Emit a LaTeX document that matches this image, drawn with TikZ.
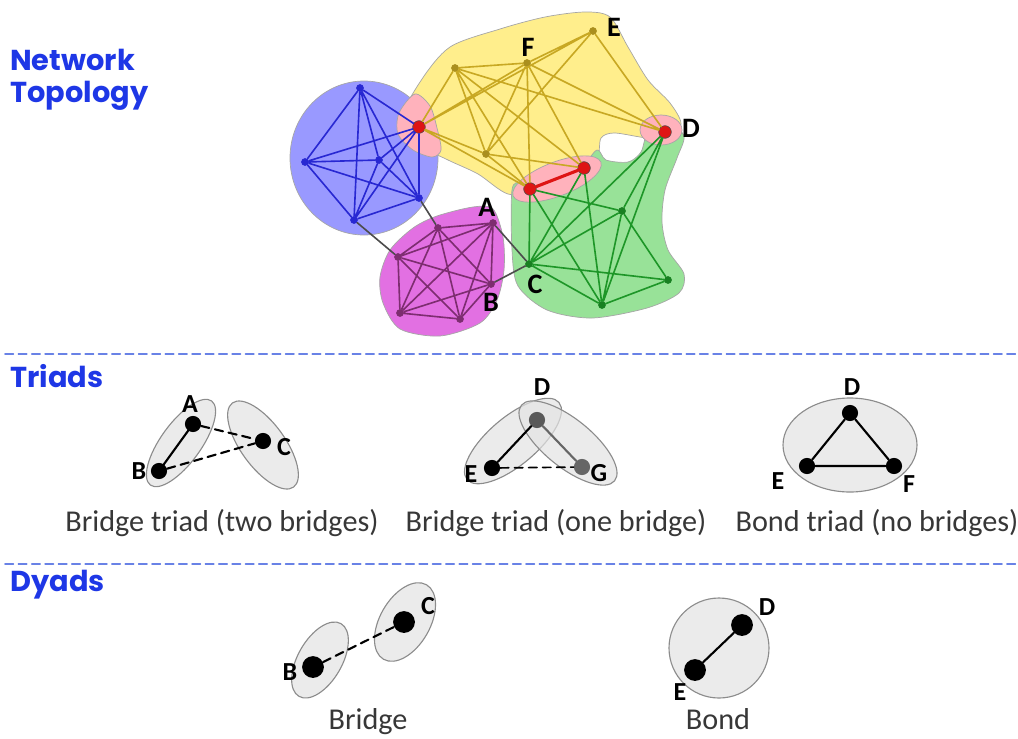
\documentclass[tikz,border=0pt]{standalone}
\usepackage{fontspec}
\setmainfont{Carlito}
\newfontfamily\headfont{Poppins}
\usepackage{tikz}

\definecolor{grpblue}{RGB}{153,153,255}
\definecolor{grpyellow}{RGB}{255,238,140}
\definecolor{grpgreen}{RGB}{152,226,152}
\definecolor{grpmag}{RGB}{226,112,226}
\definecolor{grppink}{RGB}{255,178,188}
\definecolor{edgeblue}{RGB}{40,40,210}
\definecolor{edgeyellow}{RGB}{200,168,35}
\definecolor{edgegreen}{RGB}{30,150,40}
\definecolor{edgemag}{RGB}{125,45,112}
\definecolor{nodered}{RGB}{222,20,20}
\definecolor{headblue}{RGB}{30,55,230}
\definecolor{sepblue}{RGB}{105,130,230}
\definecolor{captiongray}{RGB}{55,55,55}

\tikzset{every picture/.style={line cap=round}}
\tikzset{blob/.style = {draw=black!35, line width=0.5pt}}
\tikzset{dot/.style = {shape=circle, inner sep=0pt, minimum size=5.5pt}}
\tikzset{rednode/.style = {shape=circle, draw=black!70, fill=nodered, inner sep=0pt, minimum size=9pt}}
\tikzset{netedge/.style = {line width=1.15pt}}
\tikzset{lbl/.style = {font=\fontsize{20}{22}\selectfont\bfseries, inner sep=0pt}}
\tikzset{smalllbl/.style = {font=\fontsize{18.5}{20}\selectfont\bfseries, inner sep=0pt}}
\tikzset{heading/.style = {font=\headfont\fontsize{20.5}{22}\selectfont\bfseries, text=headblue, inner sep=0pt}}
\tikzset{caption/.style = {font=\fontsize{21.5}{24}\selectfont, text=captiongray, inner sep=0pt, anchor=base}}
\tikzset{sep/.style = {sepblue, line width=1.1pt, dash pattern=on 6pt off 3.5pt}}
\tikzset{group/.style = {draw=black!45, fill=black!11, fill opacity=0.7, line width=0.8pt}}
\tikzset{vtx/.style = {shape=circle, fill=black, inner sep=0pt, minimum size=11.5pt}}
\tikzset{bigvtx/.style = {shape=circle, fill=black, inner sep=0pt, minimum size=15.5pt}}
\tikzset{tie/.style = {line width=1.5pt}}
\tikzset{bridge/.style = {line width=1.5pt, dash pattern=on 6pt off 4pt}}

\begin{document}
\begin{tikzpicture}[x=0.025cm, y=-0.025cm]
\useasboundingbox (0,0) rectangle (1018,738);

% section headings and separators
\node[heading, anchor=base west] (hnet) at (10,70) {Network};
\node[heading, anchor=base west] (htop) at (10,102) {Topology};
\node[heading, anchor=base west] (htri) at (10,387) {Triads};
\node[heading, anchor=base west] (hdya) at (10,591) {Dyads};
\draw[sep] (5,354) -- (1018,354);
\draw[sep] (5,564) -- (1018,564);

% communities
\filldraw[blob, fill=grpblue] (364,158) ellipse [x radius=74, y radius=77];
\filldraw[blob, fill=grpmag] plot[smooth cycle] coordinates {(473,207) (493,209) (503,237) (504,270) (497,300) (480,323) (440,336) (400,329) (383,303) (380,277) (390,250) (413,228) (437,216)};
\filldraw[blob, fill=grpyellow] plot[smooth cycle] coordinates {(402,120) (420,82) (450,47) (500,29) (545,17) (585,12) (610,17) (628,47) (648,80) (670,103) (681,124) (668,141) (640,137) (614,133) (601,138) (597,158) (575,178) (540,192) (508,194) (478,174) (448,160) (422,146)};
\filldraw[blob, fill=grpgreen] plot[smooth cycle] coordinates {(512,190) (512,250) (518,286) (547,310) (592,318) (647,308) (679,293) (684,274) (668,250) (662,222) (665,190) (677,158) (684,136) (668,124) (648,132) (641,152) (628,162) (606,160) (597,150) (580,168) (548,180) (522,182)};
\filldraw[blob, fill=grppink] plot[smooth cycle] coordinates {(415,94) (430,106) (437,128) (441,150) (432,157) (413,150) (398,134) (399,113)};
\filldraw[blob, fill=grppink, rotate around={21:(557,179)}] (557,179) ellipse [x radius=47, y radius=17];
\filldraw[blob, fill=grppink] (661,130) ellipse [x radius=21, y radius=15];

% nodes of the network
\node[dot, fill=edgeblue] (b1) at (360,88) {};
\node[dot, fill=edgeblue] (b2) at (305,162) {};
\node[dot, fill=edgeblue] (b3) at (379,160) {};
\node[dot, fill=edgeblue] (b4) at (354,220) {};
\node[dot, fill=edgeblue] (b5) at (419,198) {};
\node[rednode] (r1) at (419,127) {};
\node[dot, fill=edgeyellow!85!black] (y1) at (455,68) {};
\node[dot, fill=edgeyellow!85!black] (y2) at (486,154) {};
\node[dot, fill=edgeyellow!85!black] (yF) at (527,63) {};
\node[dot, fill=edgeyellow!85!black] (yE) at (593,31) {};
\node[rednode] (r2) at (584,168) {};
\node[rednode] (r3) at (530,189) {};
\node[rednode] (rD) at (665,132) {};
\node[dot, fill=edgegreen!85!black] (gC) at (529,264) {};
\node[dot, fill=edgegreen!85!black] (g1) at (622,211) {};
\node[dot, fill=edgegreen!85!black] (g2) at (668,280) {};
\node[dot, fill=edgegreen!85!black] (g3) at (602,305) {};
\node[dot, fill=edgemag] (mA) at (493,223) {};
\node[dot, fill=edgemag] (m2) at (438,228) {};
\node[dot, fill=edgemag] (m3) at (398,257) {};
\node[dot, fill=edgemag] (mB) at (491,284) {};
\node[dot, fill=edgemag] (m5) at (400,313) {};
\node[dot, fill=edgemag] (m6) at (460,319) {};

\node[lbl] (lF) at (528,47) {F};
\node[lbl] (lE) at (614,27) {E};
\node[lbl] (lD) at (691,128) {D};
\node[lbl] (lA) at (487,207) {A};
\node[lbl] (lB) at (491,302) {B};
\node[lbl] (lC) at (535,284) {C};

% ties inside the communities
\draw[netedge, edgeblue] (b1) -- (b2) (b1) -- (b3) (b1) -- (b4) (b1) -- (b5) (b1) -- (r1)
  (b2) -- (b3) (b2) -- (b4) (b2) -- (b5) (b2) -- (r1)
  (b3) -- (b4) (b3) -- (b5) (b3) -- (r1)
  (b4) -- (b5) (b4) -- (r1) (b5) -- (r1);
\draw[netedge, edgeyellow] (r1) -- (y1) (r1) -- (yF) (r1) -- (yE) (r1) -- (y2) (r1) -- (r3)
  (y1) -- (yF) (y1) -- (y2) (y1) -- (rD) (y1) -- (r3) (y1) -- (r2)
  (yF) -- (yE) (yF) -- (y2) (yF) -- (rD) (yF) -- (r3) (yF) -- (r2)
  (yE) -- (y2) (yE) -- (rD) (y2) -- (r2) (y2) -- (r3);
\draw[netedge, edgegreen] (r3) -- (gC) (r3) -- (g1) (r3) -- (g3)
  (r2) -- (gC) (r2) -- (g3)
  (rD) -- (gC) (rD) -- (g3) (rD) -- (g1)
  (gC) -- (g1) (gC) -- (g2) (gC) -- (g3)
  (g1) -- (g3) (g1) -- (g2) (g3) -- (g2);
\draw[netedge, edgemag] (mA) -- (m2) (mA) -- (m3) (mA) -- (mB) (mA) -- (m5) (mA) -- (m6)
  (m2) -- (m3) (m2) -- (mB) (m2) -- (m5) (m2) -- (m6)
  (m3) -- (mB) (m3) -- (m5) (m3) -- (m6)
  (mB) -- (m5) (mB) -- (m6) (m5) -- (m6);
% ties between the communities
\draw[netedge, black!70] (b5) -- (m2) (b4) -- (m3) (mA) -- (gC) (mB) -- (gC);
\draw[line width=2.2pt, nodered] (r3) -- (r2);

% triads
\filldraw[group, rotate around={54:(181,443)}] (181,443) ellipse [x radius=52, y radius=20];
\filldraw[group, rotate around={-54:(263,445)}] (263,445) ellipse [x radius=52, y radius=22];
\node[vtx] (tA) at (193,424) {};
\node[vtx] (tB) at (159,471) {};
\node[vtx] (tC) at (263,441) {};
\node[smalllbl] (ltA) at (190,404) {A};
\node[smalllbl] (ltB) at (139,471) {B};
\node[smalllbl] (ltC) at (284,447) {C};
\draw[tie] (tA) -- (tB);
\draw[bridge] (tA) -- (tC);
\draw[bridge] (tB) -- (tC);
\node[caption] (cap1) at (222,531) {Bridge triad (two bridges)};

\filldraw[group, rotate around={40:(513,441)}] (513,441) ellipse [x radius=60, y radius=24];
\filldraw[group, rotate around={-39:(568,443)}] (568,443) ellipse [x radius=60, y radius=24];
\node[vtx, fill=black!65] (uD) at (537,420) {};
\node[vtx] (uE) at (492,468) {};
\node[vtx, fill=black!60] (uG) at (582,467) {};
\node[smalllbl] (luD) at (542,387) {D};
\node[smalllbl] (luE) at (471,474) {E};
\node[smalllbl] (luG) at (599,473) {G};
\draw[tie] (uD) -- (uE);
\draw[tie, black!60] (uD) -- (uG);
\draw[bridge, line width=1.2pt] (uE) -- (uG);
\node[caption] (cap2) at (556,531) {Bridge triad (one bridge)};

\filldraw[group] (850,445) ellipse [x radius=67, y radius=47];
\node[vtx] (vD) at (850,413) {};
\node[vtx] (vE) at (807,466) {};
\node[vtx] (vF) at (894,466) {};
\node[smalllbl] (lvD) at (852,387) {D};
\node[smalllbl] (lvE) at (778,481) {E};
\node[smalllbl] (lvF) at (909,484) {F};
\draw[tie] (vD) -- (vE) -- (vF) -- (vD);
\node[caption] (cap3) at (877,531) {Bond triad (no bridges)};

% dyads
\filldraw[group, rotate around={60:(320,660)}] (320,660) ellipse [x radius=42, y radius=22];
\filldraw[group, rotate around={60:(405,622)}] (405,622) ellipse [x radius=43, y radius=25];
\node[bigvtx] (dB) at (313,667) {};
\node[bigvtx] (dC) at (404,622) {};
\node[smalllbl] (ldB) at (290,672) {B};
\node[smalllbl] (ldC) at (428,606) {C};
\draw[bridge] (dB) -- (dC);
\node[caption] (cap4) at (368,729) {Bridge};

\filldraw[group] (719,648) circle [radius=50];
\node[bigvtx] (eD) at (742,625) {};
\node[bigvtx] (eE) at (695,670) {};
\node[smalllbl] (leD) at (767,607) {D};
\node[smalllbl] (leE) at (680,692) {E};
\draw[tie] (eD) -- (eE);
\node[caption] (cap5) at (718,729) {Bond};
\end{tikzpicture}
\end{document}
